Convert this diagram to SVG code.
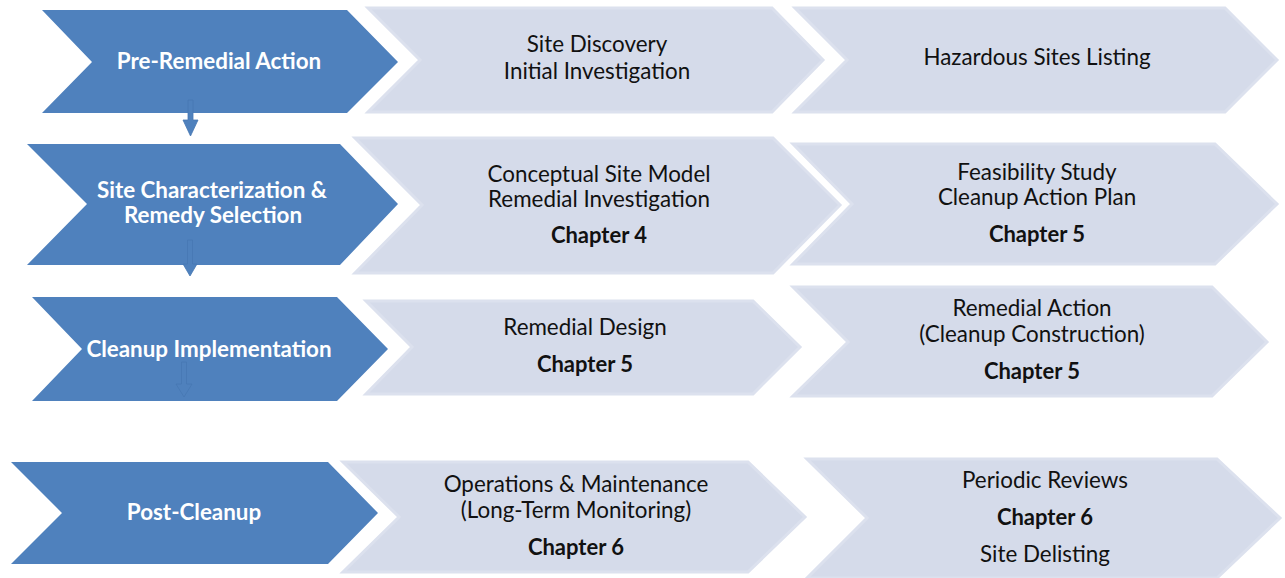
<svg xmlns="http://www.w3.org/2000/svg" width="1285" height="578" viewBox="0 0 1285 578">
<style>
.dark{fill:#4F81BD;}
.light{fill:#D5DBEA;stroke:#DCE1EE;stroke-width:3;stroke-linejoin:miter;}
.dt{font-family:Lato,"Open Sans","Liberation Sans",sans-serif;font-weight:bold;font-size:22.4px;fill:#FFFFFF;text-anchor:middle;}
.lt{font-family:Lato,"Open Sans","Liberation Sans",sans-serif;font-size:22.4px;fill:#111111;text-anchor:middle;}
.lb{font-family:Lato,"Open Sans","Liberation Sans",sans-serif;font-weight:bold;font-size:22px;fill:#111111;text-anchor:middle;}
.arr{fill:#4F81BD;stroke:#4677B3;stroke-width:0.8;}
</style>
<rect width="1285" height="578" fill="#FFFFFF"/>

<g id="row1-phase"><polygon class="dark" points="42,10 347,10 398,62 347,113 42,113 92,62"/><text class="dt" x="219" y="69">Pre-Remedial Action</text></g>
<g id="row1-step1"><polygon class="light" points="368,8 772,8 823,60 772,112 368,112 420,60"/><text class="lt" x="597" y="52">Site Discovery</text><text class="lt" x="597" y="79">Initial Investigation</text></g>
<g id="row1-step2"><polygon class="light" points="795,8 1225,8 1277,60 1225,112 795,112 847,60"/><text class="lt" x="1037" y="65">Hazardous Sites Listing</text></g>

<g id="row2-phase"><polygon class="dark" points="27,144 340,144 398,204 340,265 27,265 87,204"/><text class="dt" x="212" y="198">Site Characterization &amp;</text><text class="dt" x="213" y="223">Remedy Selection</text></g>
<g id="row2-step1"><polygon class="light" points="355,138 773,138 840,205 773,273 355,273 422,205"/><text class="lt" x="599" y="182">Conceptual Site Model</text><text class="lt" x="599" y="207">Remedial Investigation</text><text class="lb" x="599" y="243">Chapter 4</text></g>
<g id="row2-step2"><polygon class="light" points="793,144 1215,144 1277,204 1215,264 793,264 852,204"/><text class="lt" x="1037" y="180">Feasibility Study</text><text class="lt" x="1037" y="205">Cleanup Action Plan</text><text class="lb" x="1037" y="242">Chapter 5</text></g>

<g id="row3-phase"><polygon class="dark" points="32,297 337,297 388,349 337,401 32,401 82,349"/><text class="dt" x="209" y="357">Cleanup Implementation</text></g>
<g id="row3-step1"><polygon class="light" points="366,301 753,301 800,347 753,394 366,394 412,347"/><text class="lt" x="585" y="335">Remedial Design</text><text class="lb" x="585" y="372">Chapter 5</text></g>
<g id="row3-step2"><polygon class="light" points="793,287 1212,287 1267,342 1212,396 793,396 848,342"/><text class="lt" x="1032" y="316">Remedial Action</text><text class="lt" x="1032" y="342">(Cleanup Construction)</text><text class="lb" x="1032" y="379">Chapter 5</text></g>

<g id="row4-phase"><polygon class="dark" points="11,462 328,462 378,513 328,564 11,564 62,513"/><text class="dt" x="194" y="520">Post-Cleanup</text></g>
<g id="row4-step1"><polygon class="light" points="343,462 748,462 805,517 748,572 343,572 399,517"/><text class="lt" x="576" y="492">Operations &amp; Maintenance</text><text class="lt" x="576" y="518">(Long-Term Monitoring)</text><text class="lb" x="576" y="555">Chapter 6</text></g>
<g id="row4-step2"><polygon class="light" points="807,459 1217,459 1280,518 1217,578 807,578 867,518"/><text class="lt" x="1045" y="488">Periodic Reviews</text><text class="lb" x="1045" y="525">Chapter 6</text><text class="lt" x="1045" y="562">Site Delisting</text></g>

<g id="connectors">
<polygon class="arr" points="188,100 193,100 193,120 198,120 190.5,136 183,120 188,120"/>
<polygon class="arr" points="187.5,240 192.5,240 192.5,264 197,264 190,276 183,264 187.5,264"/>
<polygon class="arr" points="181.5,362 186.5,362 186.5,384 192,384 184,397 176,384 181.5,384"/>
</g>
</svg>
